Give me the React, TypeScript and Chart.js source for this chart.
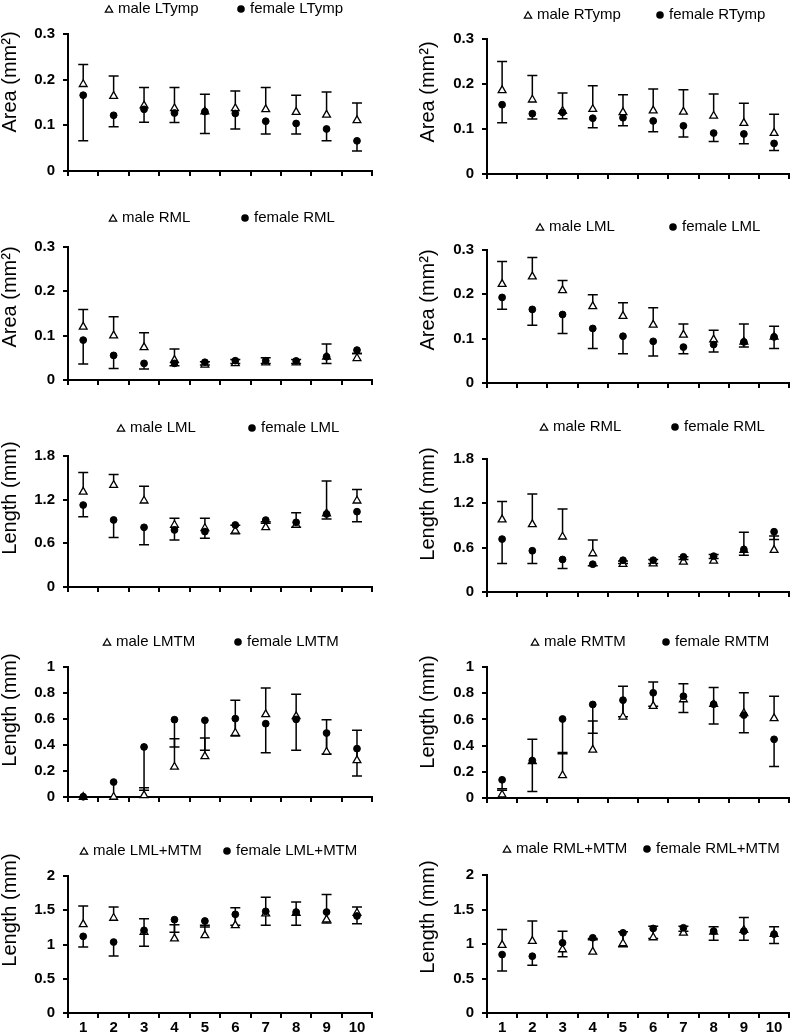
import React, { useEffect, useRef } from 'react';
import { Chart, registerables } from 'chart.js';

Chart.register(...registerables);

const FONT = '"Liberation Sans", Arial, Helvetica, sans-serif';

const categories = ['1', '2', '3', '4', '5', '6', '7', '8', '9', '10'];

// Tympanic membrane area (mm²)
const lTympMale = [0.19, 0.164, 0.143, 0.137, 0.13, 0.137, 0.135, 0.129, 0.123, 0.111];
const lTympMaleSD = [0.043, 0.044, 0.04, 0.046, 0.038, 0.038, 0.048, 0.037, 0.05, 0.038];
const lTympFemale = [0.166, 0.122, 0.135, 0.127, 0.13, 0.126, 0.109, 0.104, 0.092, 0.066];
const lTympFemaleSD = [0.1, 0.025, 0.028, 0.021, 0.048, 0.034, 0.028, 0.023, 0.026, 0.022];

const rTympMale = [0.186, 0.165, 0.14, 0.144, 0.137, 0.141, 0.138, 0.129, 0.113, 0.091];
const rTympMaleSD = [0.064, 0.054, 0.04, 0.052, 0.039, 0.048, 0.049, 0.049, 0.044, 0.042];
const rTympFemale = [0.154, 0.134, 0.137, 0.124, 0.125, 0.118, 0.107, 0.091, 0.089, 0.068];
const rTympFemaleSD = [0.04, 0.012, 0.014, 0.021, 0.018, 0.024, 0.025, 0.019, 0.022, 0.016];

// Malleolar area (mm²)
const rmlAreaMale = [0.12, 0.1, 0.0735, 0.045, 0.034, 0.0375, 0.039, 0.039, 0.0525, 0.049];
const rmlAreaMaleSD = [0.039, 0.0425, 0.033, 0.025, 0.007, 0.0085, 0.011, 0.007, 0.0285, 0.011];
const rmlAreaFemale = [0.09, 0.0555, 0.0375, 0.0375, 0.04, 0.0435, 0.0435, 0.043, 0.0525, 0.0675];
const rmlAreaFemaleSD = [0.054, 0.0295, 0.0125, 0.0055, 0.006, 0.006, 0.006, 0.0055, 0.015, 0.0075];

const lmlAreaMale = [0.223, 0.24, 0.209, 0.173, 0.151, 0.131, 0.1085, 0.098, 0.093, 0.104];
const lmlAreaMaleSD = [0.051, 0.043, 0.022, 0.026, 0.03, 0.039, 0.0245, 0.021, 0.04, 0.024];
const lmlAreaFemale = [0.193, 0.166, 0.1545, 0.123, 0.1055, 0.094, 0.081, 0.0867, 0.0927, 0.104];
const lmlAreaFemaleSD = [0.0265, 0.036, 0.043, 0.0454, 0.0395, 0.033, 0.015, 0.0167, 0.0117, 0.0264];

// Malleolar length (mm)
const lmlLenMale = [1.308, 1.399, 1.185, 0.852, 0.807, 0.77, 0.82, 0.852, 1.01, 1.185];
const lmlLenMaleSD = [0.264, 0.146, 0.201, 0.091, 0.136, 0.08, 0.078, 0.168, 0.448, 0.155];
const lmlLenFemale = [1.126, 0.921, 0.82, 0.784, 0.761, 0.852, 0.92, 0.889, 1.003, 1.035];
const lmlLenFemaleSD = [0.16, 0.242, 0.241, 0.137, 0.091, 0.122, 0.045, 0.069, 0.069, 0.137];

const rmlLenMale = [0.979, 0.916, 0.748, 0.521, 0.376, 0.385, 0.408, 0.422, 0.567, 0.567];
const rmlLenMaleSD = [0.245, 0.412, 0.376, 0.182, 0.044, 0.055, 0.068, 0.086, 0.24, 0.19];
const rmlLenFemale = [0.716, 0.558, 0.44, 0.376, 0.43, 0.43, 0.476, 0.485, 0.576, 0.816];
const rmlLenFemaleSD = [0.331, 0.173, 0.123, 0.022, 0.045, 0.045, 0.036, 0.032, 0.077, 0.104];

// MTM length (mm)
const lmtmMale = [0, 0, 0.013, 0.231, 0.313, 0.492, 0.636, 0.62, 0.346, 0.282];
const lmtmMaleSD = [0, 0, 0.059, 0.218, 0.141, 0.252, 0.202, 0.17, 0.249, 0.231];
const lmtmFemale = [0.002, 0.115, 0.385, 0.595, 0.59, 0.603, 0.564, 0.597, 0.492, 0.372];
const lmtmFemaleSD = [0, 0.115, 0.334, 0.21, 0.231, 0.133, 0.223, 0.238, 0.162, 0.21];

const rmtmMale = [0.025, 0.28, 0.172, 0.367, 0.62, 0.701, 0.752, 0.716, 0.646, 0.608];
const rmtmMaleSD = [0.035, 0.168, 0.165, 0.22, 0.233, 0.185, 0.121, 0.127, 0.157, 0.169];
const rmtmFemale = [0.139, 0.286, 0.603, 0.714, 0.747, 0.803, 0.777, 0.716, 0.633, 0.448];
const rmtmFemaleSD = [0.069, 0.236, 0.256, 0.22, 0.127, 0.103, 0.124, 0.151, 0.134, 0.208];

// ML + MTM length (mm)
const lsumMale = [1.294, 1.387, 1.18, 1.085, 1.134, 1.28, 1.45, 1.46, 1.363, 1.46];
const lsumMaleSD = [0.268, 0.16, 0.197, 0.205, 0.146, 0.258, 0.24, 0.16, 0.367, 0.087];
const lsumFemale = [1.119, 1.036, 1.207, 1.363, 1.343, 1.44, 1.484, 1.474, 1.474, 1.416];
const lsumFemaleSD = [0.156, 0.204, 0.234, 0.183, 0.088, 0.16, 0.204, 0.194, 0.16, 0.112];

const rsumMale = [0.983, 1.041, 0.92, 0.886, 1.007, 1.094, 1.162, 1.177, 1.2, 1.143];
const rsumMaleSD = [0.228, 0.291, 0.266, 0.194, 0.17, 0.165, 0.097, 0.072, 0.185, 0.106];
const rsumFemale = [0.847, 0.823, 1.017, 1.09, 1.162, 1.225, 1.235, 1.186, 1.186, 1.143];
const rsumFemaleSD = [0.237, 0.131, 0.203, 0.03, 0.203, 0.145, 0.049, 0.13, 0.13, 0.136];

const areaTitle = 'Area (mm²)';
const lengthTitle = 'Length (mm)';

type Panel = {
  male: number[]; maleSD: number[]; female: number[]; femaleSD: number[];
  maleLabel: string; femaleLabel: string; title: string;
  yMax: number; yStep: number;
  col: number; top: number; bottom: number;
  legendY: number; maleX: number; femaleX: number; titleY: number; xLabels: boolean;
};

const panels: Panel[] = [
  { male: lTympMale, maleSD: lTympMaleSD, female: lTympFemale, femaleSD: lTympFemaleSD, maleLabel: 'male LTymp', femaleLabel: 'female LTymp', title: areaTitle, yMax: 0.3, yStep: 0.1, col: 0, top: 34, bottom: 171, legendY: 9, maleX: 109, femaleX: 241, titleY: 82, xLabels: false },
  { male: rTympMale, maleSD: rTympMaleSD, female: rTympFemale, femaleSD: rTympFemaleSD, maleLabel: 'male RTymp', femaleLabel: 'female RTymp', title: areaTitle, yMax: 0.3, yStep: 0.1, col: 1, top: 39, bottom: 174, legendY: 15, maleX: 528, femaleX: 660, titleY: 92, xLabels: false },
  { male: rmlAreaMale, maleSD: rmlAreaMaleSD, female: rmlAreaFemale, femaleSD: rmlAreaFemaleSD, maleLabel: 'male RML', femaleLabel: 'female RML', title: areaTitle, yMax: 0.3, yStep: 0.1, col: 0, top: 247, bottom: 380, legendY: 218, maleX: 113, femaleX: 245, titleY: 297, xLabels: false },
  { male: lmlAreaMale, maleSD: lmlAreaMaleSD, female: lmlAreaFemale, femaleSD: lmlAreaFemaleSD, maleLabel: 'male LML', femaleLabel: 'female LML', title: areaTitle, yMax: 0.3, yStep: 0.1, col: 1, top: 250, bottom: 383, legendY: 227, maleX: 540, femaleX: 673, titleY: 300, xLabels: false },
  { male: lmlLenMale, maleSD: lmlLenMaleSD, female: lmlLenFemale, femaleSD: lmlLenFemaleSD, maleLabel: 'male LML', femaleLabel: 'female LML', title: lengthTitle, yMax: 1.8, yStep: 0.6, col: 0, top: 456, bottom: 587, legendY: 428, maleX: 121, femaleX: 252, titleY: 498, xLabels: false },
  { male: rmlLenMale, maleSD: rmlLenMaleSD, female: rmlLenFemale, femaleSD: rmlLenFemaleSD, maleLabel: 'male RML', femaleLabel: 'female RML', title: lengthTitle, yMax: 1.8, yStep: 0.6, col: 1, top: 459, bottom: 592, legendY: 427, maleX: 544, femaleX: 675, titleY: 504, xLabels: false },
  { male: lmtmMale, maleSD: lmtmMaleSD, female: lmtmFemale, femaleSD: lmtmFemaleSD, maleLabel: 'male LMTM', femaleLabel: 'female LMTM', title: lengthTitle, yMax: 1, yStep: 0.2, col: 0, top: 667, bottom: 797, legendY: 642, maleX: 107, femaleX: 238, titleY: 710, xLabels: false },
  { male: rmtmMale, maleSD: rmtmMaleSD, female: rmtmFemale, femaleSD: rmtmFemaleSD, maleLabel: 'male RMTM', femaleLabel: 'female RMTM', title: lengthTitle, yMax: 1, yStep: 0.2, col: 1, top: 667, bottom: 798, legendY: 642, maleX: 535, femaleX: 666, titleY: 712, xLabels: false },
  { male: lsumMale, maleSD: lsumMaleSD, female: lsumFemale, femaleSD: lsumFemaleSD, maleLabel: 'male LML+MTM', femaleLabel: 'female LML+MTM', title: lengthTitle, yMax: 2, yStep: 0.5, col: 0, top: 876, bottom: 1013, legendY: 851, maleX: 84, femaleX: 227, titleY: 910, xLabels: true },
  { male: rsumMale, maleSD: rsumMaleSD, female: rsumFemale, femaleSD: rsumFemaleSD, maleLabel: 'male RML+MTM', femaleLabel: 'female RML+MTM', title: lengthTitle, yMax: 2, yStep: 0.5, col: 1, top: 875, bottom: 1013, legendY: 849, maleX: 507, femaleX: 647, titleY: 917, xLabels: true },
];

const COL_LEFT = [0, 400];
const AXIS_X0 = [68, 487];
const AXIS_X1 = [376, 793];
const TITLE_X = [10, 428];
const Y_AXIS_W = 52;
const TOP_PAD = 50;
const PAGE_H = 1034;

const errorBarPlugin = {
  id: 'errorBars',
  beforeDatasetsDraw(chart: any) {
    const ctx = chart.ctx;
    const yScale = chart.scales.y;
    ctx.save();
    ctx.strokeStyle = '#000';
    ctx.lineWidth = 1.5;
    chart.data.datasets.forEach((ds: any, i: number) => {
      const errs: number[] = ds.errors;
      if (!errs) return;
      const dir = ds.errorDir;
      const meta = chart.getDatasetMeta(i);
      meta.data.forEach((pt: any, j: number) => {
        const e = errs[j];
        if (!e) return;
        const y2 = yScale.getPixelForValue(ds.data[j] + dir * e);
        ctx.beginPath();
        ctx.moveTo(pt.x, pt.y);
        ctx.lineTo(pt.x, y2);
        ctx.moveTo(pt.x - 5, y2);
        ctx.lineTo(pt.x + 5, y2);
        ctx.stroke();
      });
    });
    ctx.restore();
  },
};

function makeDecor(p: Panel, left: number, top: number) {
  return {
    id: 'decor',
    afterDraw(chart: any) {
      const ctx = chart.ctx;
      // axis title
      ctx.save();
      ctx.fillStyle = '#000';
      ctx.translate(TITLE_X[p.col] - left, p.titleY - top);
      ctx.rotate(-Math.PI / 2);
      ctx.font = `20px ${FONT}`;
      ctx.textAlign = 'center';
      ctx.textBaseline = 'middle';
      ctx.fillText(p.title, 0, 0);
      ctx.restore();
      // legend
      ctx.save();
      const ly = p.legendY - top;
      ctx.font = `15px ${FONT}`;
      ctx.textAlign = 'left';
      ctx.textBaseline = 'middle';
      ctx.fillStyle = '#000';
      ctx.strokeStyle = '#000';
      // triangle (male)
      const mx = p.maleX - left;
      const r = 4.3;
      ctx.beginPath();
      for (let k = 0; k < 3; k++) {
        const a = (k * 2 * Math.PI) / 3;
        const px = mx + Math.sin(a) * r;
        const py = ly + 1 - Math.cos(a) * r;
        if (k === 0) ctx.moveTo(px, py); else ctx.lineTo(px, py);
      }
      ctx.closePath();
      ctx.fillStyle = '#fff';
      ctx.fill();
      ctx.lineWidth = 1.2;
      ctx.stroke();
      ctx.fillStyle = '#000';
      ctx.fillText(p.maleLabel, mx + 9, ly);
      // circle (female)
      const fx = p.femaleX - left;
      ctx.beginPath();
      ctx.arc(fx, ly, 3.8, 0, Math.PI * 2);
      ctx.fill();
      ctx.fillText(p.femaleLabel, fx + 9, ly);
      ctx.restore();
    },
  };
}

function PanelChart({ p }: { p: Panel }) {
  const ref = useRef<HTMLCanvasElement | null>(null);
  const left = COL_LEFT[p.col];
  const top = p.top - TOP_PAD;
  const width = AXIS_X1[p.col] + 2 - left;
  const xAxisH = p.xLabels ? PAGE_H - p.bottom : 30;
  const height = p.bottom + xAxisH - top;
  const padLeft = AXIS_X0[p.col] - left - Y_AXIS_W;

  useEffect(() => {
    if (!ref.current) return;
    const tickFont = { family: FONT, size: 15, weight: 'bold' as const };
    const chart = new Chart(ref.current, {
      type: 'line',
      data: {
        labels: categories,
        datasets: [
          {
            label: p.femaleLabel,
            data: p.female,
            errors: p.femaleSD,
            errorDir: -1,
            showLine: false,
            pointStyle: 'circle',
            pointRadius: 3.4,
            pointBackgroundColor: '#000',
            pointBorderColor: '#000',
            pointBorderWidth: 1,
            clip: false,
          } as any,
          {
            label: p.maleLabel,
            data: p.male,
            errors: p.maleSD,
            errorDir: 1,
            showLine: false,
            pointStyle: 'triangle',
            pointRadius: 4.5,
            pointBackgroundColor: '#fff',
            pointBorderColor: '#000',
            pointBorderWidth: 1.3,
            clip: false,
          } as any,
        ],
      },
      options: {
        animation: false,
        responsive: false,
        maintainAspectRatio: false,
        events: [],
        layout: { padding: { left: padLeft, right: 2, top: TOP_PAD, bottom: 0 } },
        plugins: { legend: { display: false }, tooltip: { enabled: false } },
        scales: {
          x: {
            type: 'category',
            offset: true,
            grid: { offset: true, drawOnChartArea: false, drawTicks: true, tickLength: 5, color: '#000', lineWidth: 2 },
            border: { display: true, color: '#000', width: 2 },
            ticks: { display: p.xLabels, color: '#000', font: tickFont, padding: 1, maxRotation: 0, autoSkip: false },
            afterFit: (s: any) => { s.height = xAxisH; },
          },
          y: {
            type: 'linear',
            min: 0,
            max: p.yMax,
            grid: { drawOnChartArea: false, drawTicks: true, tickLength: 5, color: '#000', lineWidth: 2 },
            border: { display: true, color: '#000', width: 2 },
            ticks: {
              stepSize: p.yStep,
              color: '#000',
              font: tickFont,
              padding: 8,
              callback: (v: any) => String(+Number(v).toFixed(2)),
            },
            afterFit: (s: any) => { s.width = Y_AXIS_W; },
          },
        },
      },
      plugins: [errorBarPlugin, makeDecor(p, left, top)],
    } as any);
    return () => chart.destroy();
  }, []);

  return (
    <canvas
      ref={ref}
      width={width}
      height={height}
      style={{ position: 'absolute', left, top, width, height, display: 'block' }}
    />
  );
}

export default function App() {
  return (
    <div
      style={{
        position: 'absolute',
        left: 0,
        top: 0,
        width: 795,
        height: PAGE_H,
        overflow: 'hidden',
        background: '#fff',
      }}
    >
      {panels.map((p, i) => (
        <PanelChart key={i} p={p} />
      ))}
    </div>
  );
}
